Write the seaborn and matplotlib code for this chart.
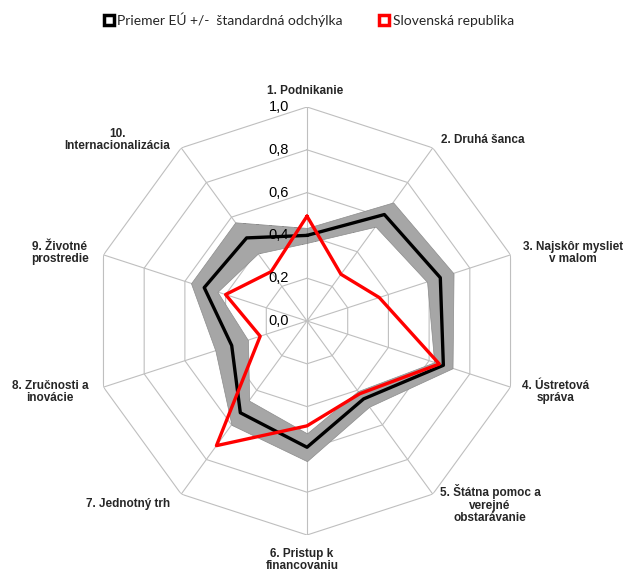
import numpy as np
import matplotlib
matplotlib.use("Agg")
import matplotlib.pyplot as plt
import seaborn as sns
import pandas as pd
from matplotlib.lines import Line2D

# Data
categories = ["1. Podnikanie", "2. Druhá šanca", "3. Najskôr mysliet\nv malom",
              "4. Ústretová\nspráva", "5. Štátna pomoc a\nverejné\nobstarávanie",
              "6. Pristup k\nfinancovaniu", "7. Jednotný trh", "8. Zručnosti a\ninovácie",
              "9. Životné\nprostredie", "10.\nInternacionalizácia"]
eu_mean = [0.40, 0.615, 0.655, 0.67, 0.45, 0.59, 0.53, 0.37, 0.505, 0.48]
eu_std = [0.035, 0.07, 0.065, 0.045, 0.045, 0.065, 0.07, 0.08, 0.065, 0.09]
slovakia = [0.49, 0.27, 0.355, 0.65, 0.42, 0.49, 0.72, 0.23, 0.40, 0.285]
r_ticks = [0.0, 0.2, 0.4, 0.6, 0.8, 1.0]
tick_labels = ["0,0", "0,2", "0,4", "0,6", "0,8", "1,0"]
legend_labels = ["Priemer EÚ +/-  štandardná odchýlka", "Slovenská republika"]

# label centres in pixels (layout only)
label_px = [(305, 91), (483, 140), (573, 253), (556, 392), (490, 504),
            (302, 560), (128, 504), (50, 392), (60, 253), (117, 140)]

sns.set_theme(style="white")
plt.rcParams["font.family"] = ["Liberation Sans", "DejaVu Sans"]

W, H = 626, 573
fig = plt.figure(figsize=(W / 100, H / 100), dpi=100)
ax = fig.add_axes([93 / W, 38 / H, 428 / W, 428 / H], projection="polar")
ax.set_theta_offset(np.pi / 2)
ax.set_theta_direction(-1)

n = len(categories)
theta = np.arange(n) * 2 * np.pi / n
# close the loop at 2*pi so seaborn does not merge it with theta=0
theta_c = np.append(theta, 2 * np.pi)
grid_c = "#BFBFBF"

for r in r_ticks[1:]:
    ax.plot(theta_c, [r] * (n + 1), color=grid_c, lw=0.8, zorder=1)
for t in theta:
    ax.plot([t, t], [0, 1], color=grid_c, lw=0.8, zorder=1)

df = pd.DataFrame({
    "theta": theta_c,
    "mean": np.append(eu_mean, eu_mean[0]),
    "std": np.append(eu_std, eu_std[0]),
    "sk": np.append(slovakia, slovakia[0]),
})
ax.fill_between(df["theta"], df["mean"] - df["std"], df["mean"] + df["std"],
                color="#A6A6A6", edgecolor="#8C8C8C", lw=0.5, zorder=2)
sns.lineplot(data=df, x="theta", y="mean", sort=False, ax=ax, color="black",
             lw=2.4, zorder=3)
sns.lineplot(data=df, x="theta", y="sk", sort=False, ax=ax, color="#FF0000",
             lw=2.4, zorder=4)

ax.set_ylim(0, 1)
ax.grid(False)
ax.set_xticks([])
ax.set_yticks([])
ax.set_xlabel("")
ax.set_ylabel("")
ax.spines["polar"].set_visible(False)

for r, lab in zip(r_ticks, tick_labels):
    ax.annotate(lab, xy=(0, r), xytext=(-13, 0), textcoords="offset points",
                ha="right", va="center", fontsize=10.5, color="black", zorder=5)

for lab, (px, py) in zip(categories, label_px):
    fig.text(px / W, 1 - py / H, lab, ha="center", va="center",
             fontsize=8.5, fontweight="bold", linespacing=1.05)

handles = [
    Line2D([], [], ls="none", marker="s", markersize=7, markerfacecolor="white",
           markeredgecolor="black", markeredgewidth=2.5),
    Line2D([], [], ls="none", marker="s", markersize=7, markerfacecolor="white",
           markeredgecolor="#FF0000", markeredgewidth=2.5),
]
fig.legend(handles, legend_labels, loc="center", bbox_to_anchor=(308 / W, 1 - 20 / H),
           ncol=2, frameon=False, handletextpad=0.1, columnspacing=2.5,
           handlelength=1.0, prop={"family": ["Lato", "DejaVu Sans"], "size": 10})

fig.savefig("out.png", dpi=100)
